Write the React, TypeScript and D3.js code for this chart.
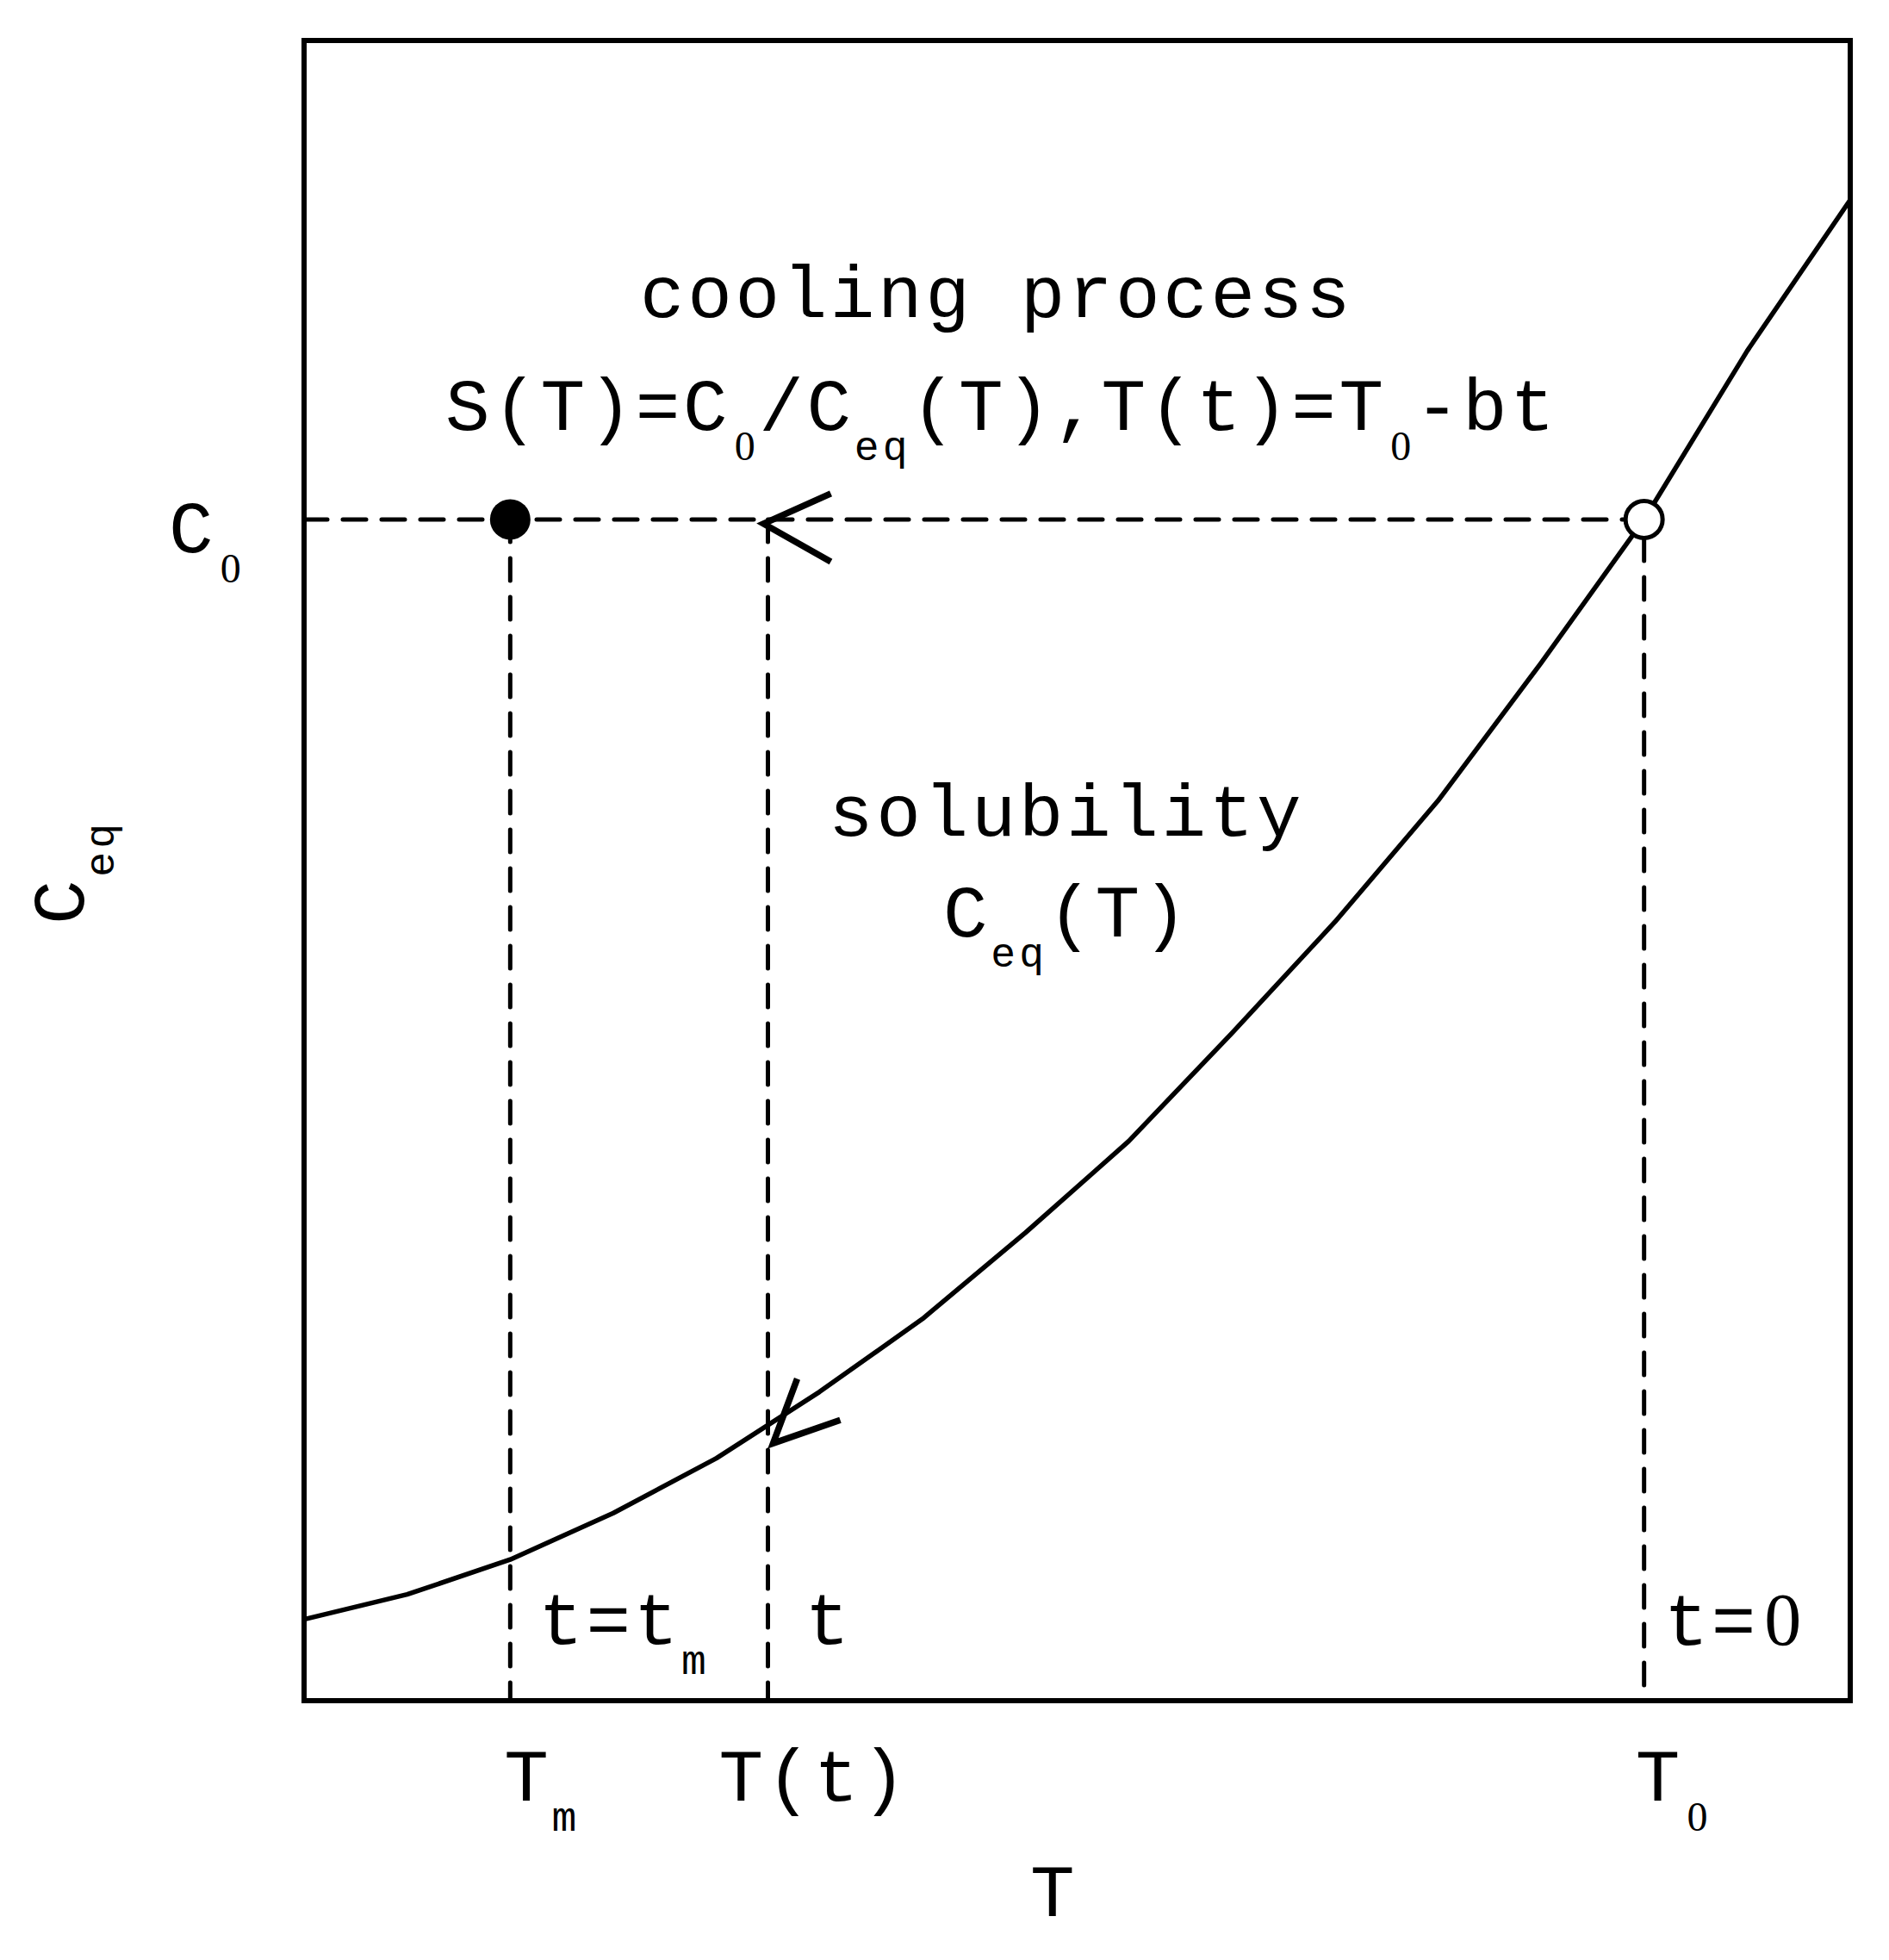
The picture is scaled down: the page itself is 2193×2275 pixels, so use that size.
import React from "react";
import * as d3 from "d3";

// ---- data ----
const temperatures = [0, 1, 2, 3, 4, 5, 6, 7, 8, 9, 10, 11, 12, 13, 14, 15];
const solubility = [4.9, 6.4, 8.5, 11.3, 14.6, 18.6, 23.0, 28.2, 33.7, 40.2, 46.9, 54.2, 62.5, 71.15, 81.3, 90.4];
const T_m = 2;
const T_t = 4.5;
const T_0 = 13;
const C_0 = 71.15;
const curveArrowTip = [4.55, 15.5];

const W = 2193;
const H = 2275;
const FONT = "'Liberation Mono', 'Courier New', monospace";
const SERIF = "'Liberation Serif', serif";
const MAIN = 86;
const MAIN_LS = 3.6;
const SUB = 48;
const SUB_LS = 4.2;
const SUB_DY = 35;

type Part = { t: string; sub?: boolean; digit?: boolean };

function Label({ x, y, parts, transform }: { x: number; y: number; parts: Part[]; transform?: string }) {
  let prevSub = false;
  return (
    <text x={x} y={y} transform={transform} fontFamily={FONT} fontSize={MAIN} letterSpacing={MAIN_LS} fill="#000">
      {parts.map((p, i) => {
        const dy = p.sub && !prevSub ? SUB_DY : !p.sub && prevSub ? -SUB_DY : 0;
        prevSub = !!p.sub;
        const size = p.sub ? SUB : MAIN;
        const adv = size * 0.6 + (p.sub ? SUB_LS : MAIN_LS);
        if (p.digit) {
          // plain oval zero in a serif face, kept on the monospace grid
          const extra = adv - size * 0.5;
          return (
            <tspan key={i} dy={dy} dx={extra / 2} fontFamily={SERIF} fontSize={size} letterSpacing={extra / 2}>
              {p.t}
            </tspan>
          );
        }
        return (
          <tspan key={i} dy={dy} fontSize={size} letterSpacing={p.sub ? SUB_LS : MAIN_LS}>
            {p.t}
          </tspan>
        );
      })}
    </text>
  );
}

export default function App() {
  const x = d3.scaleLinear().domain([0, 15]).range([353, 2148]);
  const y = d3.scaleLinear().domain([0, 100]).range([1974, 47]);
  const line = d3
    .line<number>()
    .x((_, i) => x(temperatures[i]))
    .y((d) => y(d));

  const yC0 = y(C_0);
  const bottom = y(0);
  const dashH = "27 18";
  const dashV = "26 19";
  const sw = 5;

  const hx = x(T_t) - 5;
  const hy = yC0 + 5;
  const [cax, cay] = [x(curveArrowTip[0]), y(curveArrowTip[1])];

  return (
    <svg width={W} height={H} style={{ position: "absolute", left: 0, top: 0, background: "#fff" }}>
      <rect x={0} y={0} width={W} height={H} fill="#fff" />
      {/* dashed guides */}
      <line x1={x(0)} x2={x(T_0) - 22} y1={yC0} y2={yC0} stroke="#000" strokeWidth={sw} strokeDasharray={dashH} strokeLinecap="round" />
      <line x1={x(T_m)} x2={x(T_m)} y1={yC0} y2={bottom} stroke="#000" strokeWidth={sw} strokeDasharray={dashV} strokeLinecap="round" />
      <line x1={x(T_t)} x2={x(T_t)} y1={yC0} y2={bottom} stroke="#000" strokeWidth={sw} strokeDasharray={dashV} strokeLinecap="round" />
      <line x1={x(T_0)} x2={x(T_0)} y1={yC0 + 22} y2={bottom} stroke="#000" strokeWidth={sw} strokeDasharray={dashV} strokeLinecap="round" />

      {/* solubility curve */}
      <path d={line(solubility) || ""} fill="none" stroke="#000" strokeWidth={5.5} strokeLinejoin="round" />

      {/* frame */}
      <rect x={x(0)} y={y(100)} width={x(15) - x(0)} height={y(0) - y(100)} fill="none" stroke="#000" strokeWidth={6} />

      {/* arrows */}
      <polyline points={`${hx + 78},${hy - 35} ${hx},${hy} ${hx + 78},${hy + 44}`} fill="none" stroke="#000" strokeWidth={7.5} strokeLinejoin="miter" />
      <polyline points={`${cax + 28},${cay - 75} ${cax},${cay} ${cax + 78},${cay - 27}`} fill="none" stroke="#000" strokeWidth={7.5} strokeLinejoin="miter" />

      {/* points */}
      <circle cx={x(T_m)} cy={yC0} r={23.5} fill="#000" />
      <circle cx={x(T_0)} cy={yC0} r={21.5} fill="#fff" stroke="#000" strokeWidth={5} />

      {/* texts */}
      <Label x={743} y={368} parts={[{ t: "cooling process" }]} />
      <Label
        x={517}
        y={499}
        parts={[
          { t: "S(T)=C" },
          { t: "0", sub: true, digit: true },
          { t: "/C" },
          { t: "eq", sub: true },
          { t: "(T),T(t)=T" },
          { t: "0", sub: true, digit: true },
          { t: "-bt" },
        ]}
      />
      <Label x={196} y={641} parts={[{ t: "C" }, { t: "0", sub: true, digit: true }]} />
      <Label x={962} y={970} parts={[{ t: "solubility" }]} />
      <Label x={1095} y={1087} parts={[{ t: "C" }, { t: "eq", sub: true }, { t: "(T)" }]} />
      <Label x={x(T_m) + 33} y={1908} parts={[{ t: "t=t" }, { t: "m", sub: true }]} />
      <Label x={x(T_t) + 43} y={1908} parts={[{ t: "t" }]} />
      <Label x={x(T_0) + 23} y={1909} parts={[{ t: "t=" }, { t: "0", digit: true }]} />
      <Label x={x(T_m) - 7} y={2090} parts={[{ t: "T" }, { t: "m", sub: true }]} />
      <Label x={x(T_t) - 57} y={2090} parts={[{ t: "T(t)" }]} />
      <Label x={x(T_0) - 10} y={2090} parts={[{ t: "T" }, { t: "0", sub: true, digit: true }]} />
      <Label x={1196} y={2224} parts={[{ t: "T" }]} />
      <Label x={0} y={0} transform="translate(97,1073) rotate(-90)" parts={[{ t: "C" }, { t: "eq", sub: true }]} />
    </svg>
  );
}
